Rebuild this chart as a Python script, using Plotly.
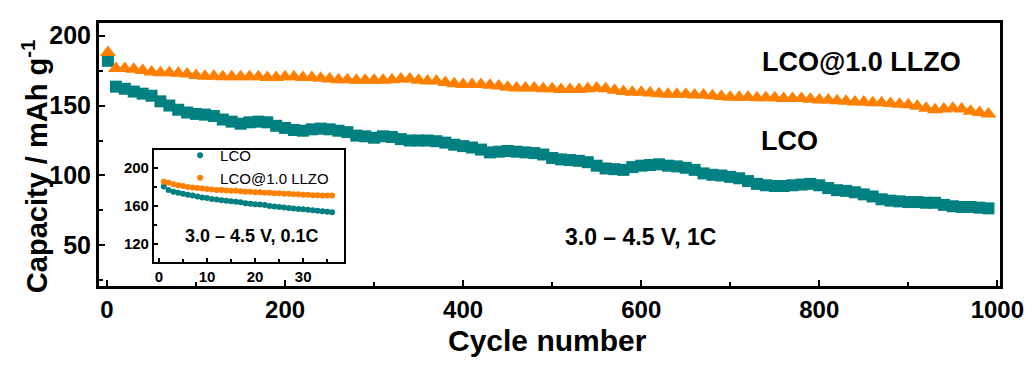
import plotly.graph_objects as go

# ---- main chart data (1C cycling) ----
cycles = [1] + list(range(10, 991, 10))
lco = [182,
       163.5, 162, 160, 158.5, 157, 153, 150, 147, 145, 144,
       143.5, 142.5, 140, 138.5, 137, 138, 138.5, 138, 135.5, 134,
       132.5, 132, 133, 133.5, 133, 132, 131, 128.5, 128, 127,
       128, 127.5, 126, 125, 125, 125, 124.5, 123.5, 122, 121,
       120, 118.5, 116.5, 117, 117.5, 117, 116.5, 116, 115, 112.5,
       111.5, 111, 110.5, 109.5, 107, 105, 104.5, 104, 106, 107,
       107.5, 108, 107, 106.5, 105.5, 104, 101.5, 100.5, 100, 99,
       98, 96, 94, 93, 92.5, 92.5, 93, 93.5, 94, 93,
       91, 89.5, 89, 88, 86.5, 85, 83, 82, 81.5, 81,
       81, 80.5, 80.5, 79, 78, 77.5, 77.5, 77, 76.5]
llzo = [188,
        176.5, 176.5, 176, 175, 174, 173.5, 173.5, 173, 172.5, 171.5,
        171, 171, 170.5, 170.5, 170.5, 170.5, 170.5, 170, 170, 170.5,
        170.5, 170, 170, 169.5, 169, 168.5, 168.5, 168, 168, 168,
        168, 168.5, 169, 169, 168, 167.5, 167.5, 166.5, 165.5, 165,
        165, 165, 164.5, 164, 163, 162.5, 162.5, 162.5, 162, 162,
        161.5, 161.5, 161.5, 162, 162.5, 162, 161, 160, 159.5, 159.5,
        159, 158.5, 158, 158, 158, 157.5, 157.5, 157, 156.5, 156,
        156, 156, 155.5, 155.5, 155.5, 155, 155, 155, 154.5, 154,
        154, 153.5, 153, 152.5, 152.5, 152, 152, 151.5, 151, 150.5,
        149.5, 148, 147, 147.5, 148, 147.5, 146, 145, 144]

# ---- inset data (0.1C) ----
inset_cycles = list(range(1, 37))
inset_lco = [180.5, 177, 175, 174, 173, 172, 171, 170, 169, 168.5,
             167.5, 167, 166, 165.5, 165, 164.5, 164, 163, 162.5, 162,
             161.5, 161, 160, 159.5, 159, 158.5, 158, 157.5, 157, 156.5,
             156, 155.5, 155, 154.5, 154, 153.5]
inset_llzo = [185.5, 184.5, 183, 182, 181, 180, 179.5, 179, 178.5, 178,
              177.5, 177, 177, 176.5, 176, 176, 175.5, 175, 175, 174.5,
              174.5, 174, 174, 173.5, 173.5, 173, 173, 172.5, 172.5, 172,
              172, 171.5, 171.5, 171, 171, 171]

TEAL = "#008080"
ORANGE = "#FF8000"
FONT = "Liberation Sans, Arial, sans-serif"

fig = go.Figure()
fig.add_trace(go.Scatter(x=cycles, y=lco, mode="markers", showlegend=False,
                         marker=dict(symbol="square", size=12, color=TEAL)))
fig.add_trace(go.Scatter(x=cycles, y=llzo, mode="markers", showlegend=False,
                         marker=dict(symbol="triangle-up", size=14, color=ORANGE)))
fig.add_trace(go.Scatter(x=inset_cycles, y=inset_lco, mode="markers", name="LCO",
                         xaxis="x2", yaxis="y2",
                         marker=dict(symbol="circle", size=6, color=TEAL)))
fig.add_trace(go.Scatter(x=inset_cycles, y=inset_llzo, mode="markers", name="LCO@1.0 LLZO",
                         xaxis="x2", yaxis="y2",
                         marker=dict(symbol="circle", size=6, color=ORANGE)))

axis_common = dict(showline=True, linecolor="black", mirror=True, showgrid=False,
                   zeroline=False, ticks="inside", tickcolor="black", automargin=False)

# page body has an 8px default margin, so the figure is 8px smaller and offset
fig.update_layout(
    width=1025, height=358,
    margin=dict(l=91, r=33, t=15, b=80),
    paper_bgcolor="white", plot_bgcolor="white",
    font=dict(family=FONT, color="black"),
    xaxis=dict(**axis_common, range=[-9, 1003], dtick=200, tick0=0,
               linewidth=3, ticklen=6, tickwidth=2,
               minor=dict(ticks="inside", dtick=100, ticklen=4, tickwidth=2, tickcolor="black"),
               tickfont=dict(size=24, weight="bold")),
    yaxis=dict(**axis_common, range=[21, 209], dtick=50, tick0=0,
               linewidth=3, ticklen=6, tickwidth=2,
               minor=dict(ticks="inside", dtick=25, ticklen=4, tickwidth=2, tickcolor="black"),
               tickfont=dict(size=25, weight="bold")),
    xaxis2=dict(**axis_common, domain=[0.061, 0.272], anchor="y2",
                range=[-1.04, 38.5], dtick=10, tick0=0, linewidth=2,
                ticklen=4, tickwidth=1.5,
                minor=dict(ticks="inside", dtick=5, ticklen=3, tickwidth=1.5, tickcolor="black"),
                tickfont=dict(size=15, weight="bold")),
    yaxis2=dict(**axis_common, domain=[0.091, 0.517], anchor="x2",
                range=[101, 219], dtick=40, tick0=0, linewidth=2,
                ticklen=4, tickwidth=1.5,
                minor=dict(ticks="inside", dtick=20, ticklen=3, tickwidth=1.5, tickcolor="black"),
                tickfont=dict(size=15, weight="bold")),
    legend=dict(x=0.090, y=0.559, xanchor="left", yanchor="top",
                bgcolor="rgba(0,0,0,0)", font=dict(size=15),
                tracegroupgap=0, itemwidth=30),
    annotations=[
        dict(x=0.498, y=-0.209, xref="paper", yref="paper", text="<b>Cycle number</b>",
             showarrow=False, font=dict(size=30), xanchor="center", yanchor="middle"),
        dict(x=-0.071, y=0.452, xref="paper", yref="paper",
             text="<b>Capacity / mAh g<sup>-1</sup></b>", textangle=-90,
             showarrow=False, font=dict(size=29), xanchor="center", yanchor="middle"),
        dict(x=847, y=181, xref="x", yref="y", text="<b>LCO@1.0 LLZO</b>",
             showarrow=False, font=dict(size=27)),
        dict(x=767, y=125, xref="x", yref="y", text="<b>LCO</b>",
             showarrow=False, font=dict(size=27)),
        dict(x=599, y=56, xref="x", yref="y", text="<b>3.0 – 4.5 V, 1C</b>",
             showarrow=False, font=dict(size=23)),
        dict(x=19.2, y=128.5, xref="x2", yref="y2", text="<b>3.0 – 4.5 V, 0.1C</b>",
             showarrow=False, font=dict(size=18)),
    ],
)

fig.write_html("out.html")
